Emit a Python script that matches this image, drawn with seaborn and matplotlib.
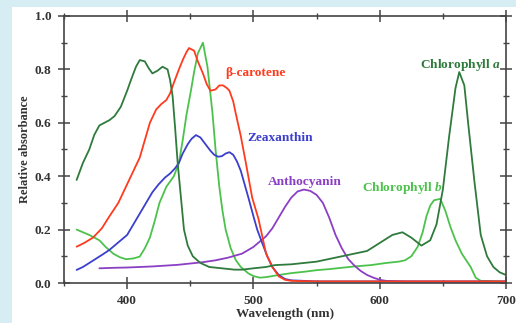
import numpy as np
import pandas as pd
import matplotlib
matplotlib.use("Agg")
import matplotlib.pyplot as plt
from matplotlib.patches import Rectangle
from matplotlib.ticker import MultipleLocator
import seaborn as sns

# ---- data ----
chla_wl = [360, 365, 370, 374, 378, 382, 386, 390, 395, 400, 403, 407, 410, 414, 417, 420, 424, 428, 432, 434, 436, 438, 440, 443, 445, 448, 452, 458, 465, 475, 485, 491, 500, 510, 517, 530, 540, 550, 560, 570, 580, 590, 600, 610, 618, 625, 633, 640, 645, 650, 655, 660, 663, 667, 670, 675, 680, 685, 690, 695, 700]
chla_ab = [0.386, 0.45, 0.50, 0.555, 0.59, 0.60, 0.61, 0.625, 0.66, 0.72, 0.76, 0.81, 0.835, 0.83, 0.805, 0.785, 0.795, 0.81, 0.80, 0.76, 0.70, 0.58, 0.45, 0.30, 0.20, 0.14, 0.10, 0.075, 0.06, 0.055, 0.05, 0.05, 0.055, 0.06, 0.067, 0.07, 0.075, 0.08, 0.09, 0.10, 0.11, 0.12, 0.15, 0.18, 0.19, 0.17, 0.14, 0.16, 0.22, 0.35, 0.55, 0.73, 0.79, 0.74, 0.60, 0.38, 0.18, 0.10, 0.06, 0.04, 0.03]

bcar_wl = [360, 366, 373, 380, 386, 393, 399, 405, 410, 414, 418, 423, 427, 431, 434, 437, 441, 444, 447, 449, 453, 456, 460, 463, 466, 470, 473, 476, 479, 481, 484, 486, 490, 494, 499, 504, 510, 515, 520, 525, 530, 550, 600, 700]
bcar_ab = [0.136, 0.15, 0.17, 0.205, 0.25, 0.30, 0.36, 0.42, 0.47, 0.535, 0.60, 0.65, 0.67, 0.685, 0.71, 0.75, 0.80, 0.835, 0.865, 0.88, 0.87, 0.83, 0.785, 0.745, 0.72, 0.725, 0.74, 0.74, 0.73, 0.72, 0.68, 0.635, 0.55, 0.45, 0.32, 0.24, 0.11, 0.06, 0.025, 0.012, 0.008, 0.006, 0.006, 0.006]

zea_wl = [360, 365, 370, 375, 380, 386, 390, 395, 400, 405, 410, 415, 420, 425, 430, 434, 438, 441, 444, 448, 451, 454.5, 458, 462, 466, 469, 472, 475, 478, 481, 484, 487, 490, 493, 496, 500, 503, 507, 511, 515, 520, 525, 530, 550, 700]
zea_ab = [0.049, 0.06, 0.075, 0.09, 0.105, 0.124, 0.14, 0.16, 0.18, 0.22, 0.26, 0.30, 0.34, 0.37, 0.395, 0.41, 0.43, 0.45, 0.485, 0.52, 0.54, 0.554, 0.545, 0.52, 0.495, 0.48, 0.473, 0.475, 0.485, 0.49, 0.48, 0.455, 0.42, 0.37, 0.32, 0.25, 0.2, 0.149, 0.1, 0.06, 0.03, 0.015, 0.01, 0.006, 0.006]

anth_wl = [378, 390, 400, 420, 440, 452, 460, 470, 480, 491, 500, 505, 510, 515, 520, 525, 530, 535, 540, 545, 550, 555, 560, 565, 570, 575, 580, 585, 590, 595, 600, 605, 620, 700]
anth_ab = [0.055, 0.057, 0.058, 0.062, 0.068, 0.074, 0.078, 0.085, 0.095, 0.11, 0.135, 0.155, 0.175, 0.205, 0.245, 0.285, 0.32, 0.343, 0.35, 0.345, 0.33, 0.30, 0.245, 0.18, 0.13, 0.09, 0.065, 0.045, 0.03, 0.02, 0.012, 0.008, 0.005, 0.004]

chlb_wl = [360, 365, 370, 378, 383, 389, 394, 399, 405, 410, 414, 418, 422, 425.6, 431, 437, 441, 444, 447, 450.5, 453, 456, 460, 463.6, 467.6, 470, 473, 475.5, 478, 482, 486, 490, 496, 500, 505, 510, 520, 530, 540, 550, 560, 570, 580, 593, 605, 615, 620, 625, 630, 634, 637, 640, 643, 648, 652, 656, 660, 665, 672, 676, 680, 700]
chlb_ab = [0.20, 0.19, 0.18, 0.16, 0.135, 0.11, 0.097, 0.089, 0.092, 0.099, 0.13, 0.17, 0.235, 0.30, 0.36, 0.40, 0.45, 0.535, 0.63, 0.72, 0.79, 0.86, 0.90, 0.81, 0.635, 0.50, 0.36, 0.27, 0.20, 0.13, 0.086, 0.06, 0.036, 0.026, 0.02, 0.022, 0.03, 0.037, 0.042, 0.048, 0.052, 0.057, 0.062, 0.067, 0.075, 0.08, 0.085, 0.10, 0.135, 0.19, 0.25, 0.29, 0.31, 0.315, 0.27, 0.21, 0.16, 0.11, 0.06, 0.02, 0.008, 0.005]

x_ticks = [400, 500, 600, 700]
y_ticks = [0.0, 0.2, 0.4, 0.6, 0.8, 1.0]
y_tick_labels = ["0.0", "0.2", "0.4", "0.6", "0.8", "1.0"]

series = [
    ("Chlorophyll b", chlb_wl, chlb_ab, "#4cc24c"),
    ("Anthocyanin", anth_wl, anth_ab, "#8b3fc4"),
    ("Zeaxanthin", zea_wl, zea_ab, "#3b3fcc"),
    ("β-carotene", bcar_wl, bcar_ab, "#ff3b1e"),
    ("Chlorophyll a", chla_wl, chla_ab, "#2f7a3c"),
]

sns.set_style("ticks")
plt.rcParams['font.family'] = ['Liberation Serif', 'DejaVu Serif']
plt.rcParams['font.weight'] = 'bold'
plt.rcParams['mathtext.fontset'] = 'custom'
plt.rcParams['mathtext.it'] = 'Liberation Serif:italic:bold'
plt.rcParams['mathtext.rm'] = 'Liberation Serif:bold'

fig = plt.figure(figsize=(5.16, 3.23), dpi=100)
fig.patch.set_facecolor("#d6edf4")

bg = fig.add_axes([0, 0, 1, 1], zorder=-5)
bg.set_axis_off()
bg.set_xlim(0, 1)
bg.set_ylim(0, 1)
bg.add_patch(Rectangle((12/516, 0), 1 - 12/516, 1 - 7/323, facecolor="white", edgecolor="none"))

ax = fig.add_axes([64/516, (323-283)/323, (506-64)/516, (283-16)/323], zorder=1)
ax.set_facecolor("none")

for name, wl, ab, col in series:
    df = pd.DataFrame({"Wavelength": wl, "Absorbance": ab})
    sns.lineplot(data=df, x="Wavelength", y="Absorbance", ax=ax, color=col, linewidth=1.3)

ax.set_xlim(350, 700)
ax.set_ylim(0, 1.0)
ax.set_xticks(x_ticks)
ax.set_xticklabels([str(v) for v in x_ticks])
ax.set_yticks(y_ticks)
ax.set_yticklabels(y_tick_labels)
ax.xaxis.set_minor_locator(MultipleLocator(50))
ax.yaxis.set_minor_locator(MultipleLocator(0.1))
ax.tick_params(which="major", direction="inout", length=8, width=1.1, color="#444444",
               top=True, right=True, labelsize=9.5, pad=5)
ax.tick_params(which="minor", direction="inout", length=5, width=1.0, color="#444444",
               top=True, right=True)
for lab in ax.get_xticklabels() + ax.get_yticklabels():
    lab.set_fontweight("bold")
    lab.set_color("#333333")
for s in ax.spines.values():
    s.set_linewidth(1.2)
    s.set_color("#444444")

ax.set_xlabel("Wavelength (nm)", fontsize=9.5, fontweight="bold", color="#333333", labelpad=0)
ax.set_ylabel("Relative absorbance", fontsize=9, fontweight="bold", color="#333333", labelpad=3)

tk = dict(fontsize=9.6, fontweight="bold", va="center", ha="left")
def place(txt, px, py, col):
    ax.text(px / 516, 1 - py / 323, txt, transform=fig.transFigure, color=col, **tk)

place("β-carotene", 225, 73, "#ff3b1e")
place("Zeaxanthin", 247, 138, "#3b3fcc")
place("Anthocyanin", 268, 182, "#8b3fc4")
place("Chlorophyll $\\mathit{b}$", 362, 188, "#4cc24c")
place("Chlorophyll $\\mathit{a}$", 420, 65, "#2f7a3c")

fig.savefig("out.png", dpi=100, facecolor=fig.get_facecolor())
